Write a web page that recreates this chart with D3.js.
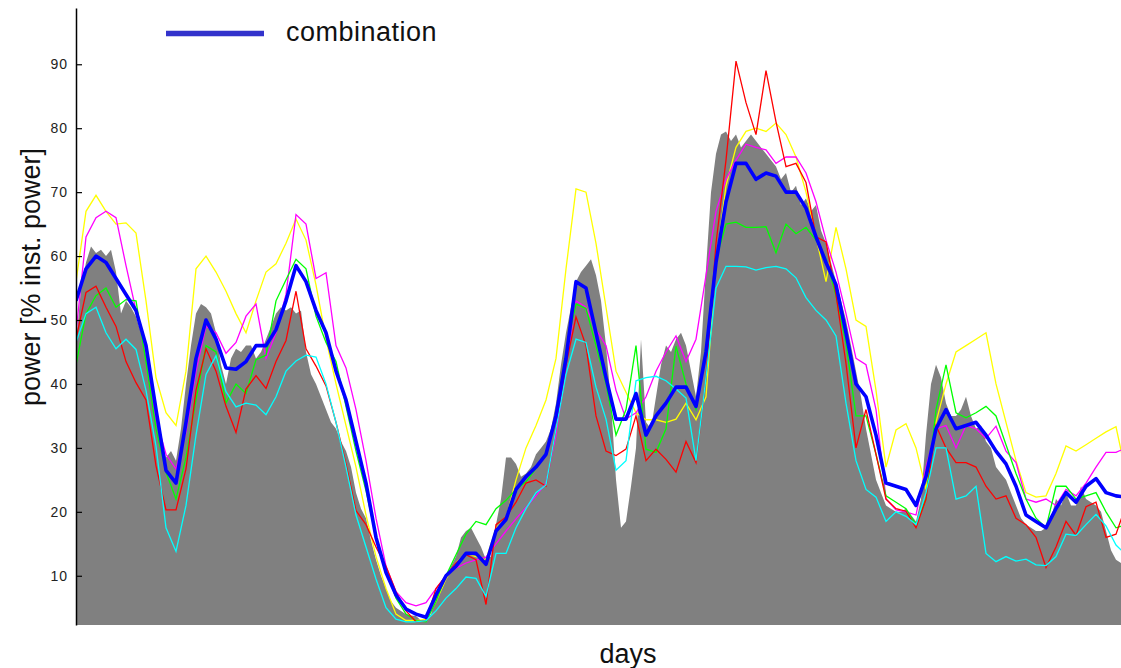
<!DOCTYPE html>
<html>
<head>
<meta charset="utf-8">
<script src="https://cdn.jsdelivr.net/npm/d3@7"></script>
<style>
  html, body { margin: 0; padding: 0; background: #fff; }
  svg { display: block; font-family: "Liberation Sans", Arial, Helvetica, sans-serif; }
</style>
</head>
<body>
<svg id="chart" width="1121" height="668"></svg>
<script>
// Measured power (one sample every 5 h) in % of installed power
const observed = [
  46,55,59,61.5,60.5,61,60,61,57.5,51,
  53,52,50.5,48,44.5,41,36,31.5,28.5,29.5,
  28,33,40,46,51,52.5,52,51,48,43,
  40,44,45.5,45,46,46,44,45,47,49,
  51,52,51.5,52,51,51.5,45,41.5,40,38,
  36,34,33,31,29.5,27,23,20.5,19,15.5,
  12.5,10,8,6,5,4.5,4,3.8,3.7,3,
  3.2,4,7,8.5,10,11.5,13,16,17,17.5,
  16,14.5,12.5,13,18,22,28.5,28.5,27.5,25.5,
  26,27,29,30,31,33,37,43,48,52,
  56,57.5,58.5,59.5,57,53,46,37,25,17.5,
  18.5,24,30,47,34,33,38,43,46,45,
  47,48,46,42,38,45,58,70,76,79,
  79.5,78,79,77,78,79,78,77,76,75,
  74,72,73,70,71,68,69,67,68,64,
  62,59,56,53,50,46,42,38,33,29,
  25,23,21,20.5,20,20,20.5,19.5,18.5,22,
  32,40,43,41,37,35,35,36,38,35,
  33,33.5,31,30,27,26,25,23,21,19,
  18,17.5,17,17,17.5,19,22,21,23,21,
  21,24,22,21.5,21,20,17,14,12.5,12
];
const observedStepHours = 5;

// Individual forecasts and their combination, one value every 10 h
const forecastStepHours = 10;

const model1 = [
  56,67,69.5,67,65,65.2,63.6,53,41,35.5,
  33.5,42,58,60,57.5,54.5,51,48,53,57.5,
  58.8,62,65.8,62.5,55.5,47,40,33.5,27,19.5,
  13,8,4,3,3,3.2,6,9.5,12,13.5,
  13,12.5,17.5,19,25,30,33.5,37.5,44,58,
  70.5,70,62,52,42,38.7,35.5,34.4,34.4,34,
  34.5,37,34.4,38,59,71,77,79.5,80,79.5,
  80.8,79,75.5,70,63,56,64.5,58,50,49,
  39,27,32.8,33.8,30,23.5,34,40,45,46,
  47,48,40,34,28,23,22.3,22.5,26,30.3,
  29.5,30.5,31.5,32.5,33.3,26
];
const model2 = [
  48,63,66,67,66,58.5,51.5,45,34.5,29,
  26.7,32.5,42,49,48,44.8,46.5,50.6,52.5,44,
  48,54,66.5,65,56.5,57.4,46,42.5,36,28,
  19,11.5,7.5,5.8,5.3,5.8,8,10,11.2,12,
  12.5,12.9,15,17,18.9,20.7,22.5,24.5,32,43,
  53,52,48.5,46,39,34.5,35.5,38,42,45,
  47.5,43.5,47,57,67,72,75,77.5,77,76.6,
  74.5,75.5,75.5,73,68.5,62.5,57.5,51,44,43,
  36,22,20.3,20,19.5,27,33,33.5,30,33.5,
  33,31.5,33.4,29.5,27.7,22,21.5,22,21,23.5,
  22.5,24.5,27,29.3,29.3,30
];
const model3 = [
  43,51,53.8,55,52,53.2,53,43.5,33,26.2,
  22,28.5,37.5,46,45,37,40,38.5,43.8,44.5,
  53,56.3,59.5,58,50.6,46.5,43.5,36.5,29.5,23.3,
  16,11,6.5,4,3,2.8,6,10,13.3,16.5,
  18.5,18,20.5,21.8,23.5,24.7,26.8,29.3,35.5,45,
  52.5,51.8,46,40,32,36,46,29.8,29.3,33,
  45.9,40,36,46,59.4,65,65.3,64.5,64.5,64.6,
  60.5,65,63.5,64.5,62.5,59.6,53.8,46.4,35,35,
  29,22.5,21.5,20.5,18,22,36,43,35.5,34.7,
  35.5,36.5,35,30.5,26,22,19,17.5,24,24,
  22,22.5,23,20,17.5,18
];
const model4 = [
  47,54.3,55.3,52,49,43.5,40.2,37.5,27.2,20.3,
  20.3,26.7,39,45.5,42,36.5,32.4,39.2,41.3,39.3,
  43.5,46.8,54.5,45.5,42.8,39.7,34,27.5,20.2,18,
  14.5,11.5,7.5,4.5,2.8,3,8,10,12,13.3,
  12.5,5.5,18,19.2,21.5,24.5,25,24,33,43,
  50.5,46,35,29.5,28.8,29.8,35,28,29.8,28.2,
  26.2,31,27.7,41,62,75,90.5,84,79,89,
  81,74,74.5,71.5,63,62.2,54,43.2,30,36,
  29,22,20.5,20.1,17.5,22,33.5,30,27.7,27.7,
  27,24,22,22.5,19,18,16,11.3,14.5,18.5,
  16.3,20.8,21.5,16,16.5,21
];
const model5 = [
  46.5,51,52,48,45.5,47,45.4,39,30.3,17.5,
  13.8,21,32,41.5,44.4,38.8,36.4,37,36.7,35.2,
  38,42,43.6,44.5,44.2,40,34,27,19.5,14.5,
  9.5,5,3.2,2.8,2.8,3,4.5,6.5,8,9.8,
  9.6,6.8,13.5,13.5,17.5,20.5,23,24.2,33,41.5,
  47,46.5,39.5,34.5,26.5,28,40.5,41,41.2,40.5,
  39.2,37.8,28,41,55,58.4,58.4,58.3,57.8,58.2,
  58.4,58,56.6,53.5,51.5,50,47.5,37,28,23.5,
  22.3,18.5,20,19.3,18,23,30,30,22,22.5,
  24,13.5,12.2,13,12.3,12.6,11.7,11.6,13,16.5,
  16.3,18,19.6,17.8,14.8,13.3
];
const combination = [
  53,58,60,59,56.5,54,51.5,46,36,26.5,
  24.5,34,44,50,47,42.5,42.3,43.5,46,46,
  48.5,53,58.5,56,51.5,48,42,37.5,31,24.5,
  16,10.5,7,4.8,4,3.5,7,10,11.5,13.5,
  13.5,11.8,17,18.8,23.5,25.5,27,29,35,44,
  56,55,48,41,34.5,34.5,38.5,32,35,37,
  39.5,39.5,36.5,45,59,68.5,74.5,74.5,72,73,
  72.5,70,70,67.5,63,59,55.5,48,40,38,
  32,24.5,24,23.5,21,25.5,33,36,33,33.5,
  34,32,29.5,27.5,24,19.5,18.5,17.5,20.5,23,
  21.5,24,25.2,23,22.5,22.3
];

const forecasts = [
  { name: "model 1", color: "#ffff00", values: model1 },
  { name: "model 2", color: "#ff00ff", values: model2 },
  { name: "model 3", color: "#00ff00", values: model3 },
  { name: "model 4", color: "#ff0000", values: model4 },
  { name: "model 5", color: "#00ffff", values: model5 }
];

const yTicks = [10, 20, 30, 40, 50, 60, 70, 80, 90];
const yLimits = [2.3, 98.8];
const spanHours = (observed.length - 1) * observedStepHours;

// Layout
const margin = { left: 76, right: 0, top: 8, bottom: 43 };
const width = 1121, height = 668;
const plotBottom = height - margin.bottom;

const svg = d3.select("#chart");

const x = d3.scaleLinear().domain([0, spanHours]).range([margin.left, width - margin.right]);
const y = d3.scaleLinear().domain(yLimits).range([plotBottom, margin.top]);

svg.append("defs").append("clipPath").attr("id", "plot-clip")
  .append("rect")
  .attr("x", margin.left).attr("y", margin.top)
  .attr("width", width - margin.left - margin.right)
  .attr("height", plotBottom - margin.top);

const plot = svg.append("g").attr("clip-path", "url(#plot-clip)");

// Measured power as a filled gray area
const area = d3.area()
  .x((d, i) => x(i * observedStepHours))
  .y0(y(yLimits[0]))
  .y1(d => y(d));

plot.append("path")
  .datum(observed)
  .attr("fill", "#808080")
  .attr("d", area);

// Forecast lines
const line = d3.line()
  .x((d, i) => x(i * forecastStepHours))
  .y(d => y(d));

plot.selectAll("path.forecast")
  .data(forecasts)
  .join("path")
  .attr("class", "forecast")
  .attr("fill", "none")
  .attr("stroke", d => d.color)
  .attr("stroke-width", 1.3)
  .attr("d", d => line(d.values));

plot.append("path")
  .datum(combination)
  .attr("fill", "none")
  .attr("stroke", "#0000ff")
  .attr("stroke-width", 3.6)
  .attr("stroke-linejoin", "round")
  .attr("d", line);

// Y axis with inward ticks
const yAxis = d3.axisLeft(y)
  .tickValues(yTicks)
  .tickSizeInner(-6)
  .tickSizeOuter(0)
  .tickPadding(8)
  .tickFormat(d3.format("d"));

const axisG = svg.append("g")
  .attr("transform", `translate(${margin.left},0)`)
  .call(yAxis);
axisG.select(".domain").attr("stroke", "#000").attr("stroke-width", 1.5);
axisG.selectAll(".tick line").attr("stroke", "#000").attr("stroke-width", 1.2);
axisG.selectAll(".tick text")
  .attr("fill", "#222")
  .style("font-size", "14px")
  .style("letter-spacing", "1px");

// Axis titles
svg.append("text")
  .attr("x", 628).attr("y", 663)
  .attr("text-anchor", "middle")
  .style("font-size", "27px")
  .attr("fill", "#111")
  .text("days");

svg.append("text")
  .attr("transform", "translate(40,277) rotate(-90)")
  .attr("text-anchor", "middle")
  .style("font-size", "27px")
  .attr("fill", "#111")
  .text("power [% inst. power]");

// Legend
const legend = svg.append("g");
legend.append("line")
  .attr("x1", 166).attr("x2", 264)
  .attr("y1", 33.5).attr("y2", 33.5)
  .attr("stroke", "#3333cc")
  .attr("stroke-width", 5.5);
legend.append("text")
  .attr("x", 286).attr("y", 41)
  .style("font-size", "27px")
  .style("letter-spacing", "0.5px")
  .attr("fill", "#111")
  .text("combination");
</script>
</body>
</html>
